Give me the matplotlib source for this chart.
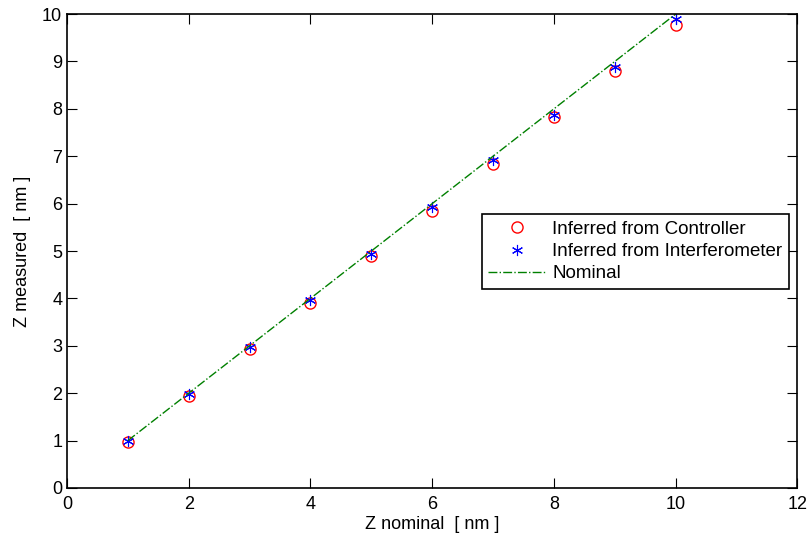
import matplotlib
matplotlib.use("Agg")
import matplotlib.pyplot as plt

plt.rcParams["font.family"] = ["Liberation Sans", "DejaVu Sans"]

z_nominal = [1, 2, 3, 4, 5, 6, 7, 8, 9, 10]
z_controller = [0.98, 1.95, 2.93, 3.91, 4.89, 5.85, 6.83, 7.82, 8.80, 9.77]
z_interferometer = [1.00, 1.98, 2.97, 3.96, 4.94, 5.93, 6.92, 7.88, 8.89, 9.89]

fig = plt.figure(figsize=(8.12, 5.41), dpi=100)
ax = fig.add_axes([0.0825, 0.098, 0.8995, 0.876])

ax.plot(z_nominal, z_controller, "o", mfc="none", mec="red", ms=8, mew=1.0,
        label="Inferred from Controller")
ax.plot(z_nominal, z_interferometer, color="blue", ls="none", ms=8, mew=0.8,
        marker=(6, 2, 0), label="Inferred from Interferometer")
ax.plot(z_nominal, z_nominal, "-.", color=(0, 0.5, 0), lw=1.0, label="Nominal")

ax.set_xlim(0, 12)
ax.set_ylim(0, 10)
ax.set_xticks(range(0, 13, 2))
ax.set_yticks(range(0, 11))
ax.tick_params(direction="in", top=True, right=True, labelsize=13, length=7)
ax.tick_params(axis="x", pad=6)
for side in ax.spines.values():
    side.set_linewidth(1.2)
ax.set_xlabel("Z nominal  [ nm ]", fontsize=13, labelpad=2)
ax.set_ylabel("Z measured  [ nm ]", fontsize=13, labelpad=8)

leg = ax.legend(loc="upper left", bbox_to_anchor=(0.568, 0.578), borderaxespad=0,
                fontsize=13.5, fancybox=False, edgecolor="black", framealpha=1,
                handlelength=3.0, handletextpad=0.4, borderpad=0.35,
                labelspacing=0.28)
leg.get_frame().set_linewidth(1.2)

fig.savefig("out.png", dpi=100)
